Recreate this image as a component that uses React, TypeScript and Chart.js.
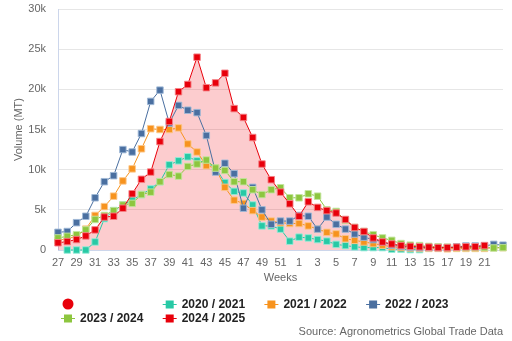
import React, { useEffect, useRef } from 'react';
import { Chart, registerables } from 'chart.js';

Chart.register(...registerables);

const weeks = [
  '27', '28', '29', '30', '31', '32', '33', '34', '35', '36', '37', '38', '39', '40',
  '41', '42', '43', '44', '45', '46', '47', '48', '49', '50', '51', '52',
  '1', '2', '3', '4', '5', '6', '7', '8', '9', '10', '11', '12', '13', '14', '15',
  '16', '17', '18', '19', '20', '21', '22', '23',
];

const yTicks = [0, 5000, 10000, 15000, 20000, 25000, 30000];

// values in thousands of MT
const s2020 = [
  null, 0, 0, 0, 1.0, 3.9, 4.9, 5.6, 6.2, 6.9, 7.6, 8.5, 10.6, 11.1,
  11.6, 11.1, 10.9, 10.2, 8.4, 7.3, 7.1, 5.6, 3.0, 3.0, 2.6, 1.1,
  1.6, 1.5, 1.3, 1.1, 0.7, 0.55, 0.4, 0.3, 0.3, 0.3, 0.1, 0.1, 0.05, 0.05, null,
  null, null, null, null, null, null, null, null,
];
const s2021 = [
  1.2, 1.4, 1.7, 2.6, 4.3, 5.4, 6.7, 8.6, 10.1, 12.6, 15.1, 15.0, 15.0, 15.2,
  13.2, 12.2, 10.5, 10.2, 7.8, 6.2, 5.8, 4.9, 4.1, 3.6, 3.4, 3.3,
  3.3, 3.0, 2.6, 2.2, 2.0, 1.4, 1.2, 1.0, 0.8, 0.6, 0.4, 0.3, 0.25, 0.2, 0.2,
  0.2, 0.15, 0.2, 0.2, 0.2, 0.2, 0.3, 0.3,
];
const s2022 = [
  2.2, 2.3, 3.4, 4.2, 6.5, 8.5, 9.25, 12.5, 12.2, 14.5, 18.5, 19.9, 15.8, 18.0,
  17.4, 17.1, 14.25, 9.7, 10.8, 9.5, 5.2, 7.8, 5.0, 3.2, 3.6, 3.6,
  4.3, 4.2, 2.6, 4.1, 3.2, 2.6, 2.0, 1.6, 1.3, 1.0, 0.6, 0.45, 0.35, 0.3, 0.3,
  0.3, 0.3, 0.4, 0.5, 0.5, 0.5, 0.7, 0.6,
];
const s2023 = [
  1.5, 1.7, 1.9, 2.5, 3.8, 4.3, 4.9, 5.6, 5.8, 6.9, 7.2, 8.5, 9.4, 9.2,
  10.4, 10.7, 11.2, 10.2, 9.9, 8.5, 8.5, 7.5, 6.9, 7.5, 7.75, 6.5,
  6.5, 7.0, 6.7, 5.0, 4.8, 3.7, 2.8, 2.3, 1.9, 1.5, 1.2, 0.8, 0.6, 0.55, 0.45,
  0.4, 0.35, 0.3, 0.3, 0.3, 0.3, 0.25, 0.3,
];
const s2024 = [
  0.9, 1.05, 1.3, 1.75, 2.5, 4.1, 4.2, 5.2, 7.0, 8.8, 9.7, 13.5, 16.0, 19.7,
  20.6, 24.0, 20.2, 20.8, 22.0, 17.6, 16.5, 14.0, 10.7, 8.75, 7.2, 5.75,
  4.2, 6.0, 5.3, 4.9, 4.6, 3.8, 2.8, 2.3, 1.5, 1.0, 0.75, 0.55, 0.45, 0.4, 0.35,
  0.3, 0.3, 0.35, 0.4, 0.4, 0.55, null, null,
];

const seriesNames = ['2020 / 2021', '2021 / 2022', '2022 / 2023', '2023 / 2024', '2024 / 2025'];
const seriesValues = [s2020, s2021, s2022, s2023, s2024];
const seriesColors = ['#27c9a5', '#f7931e', '#4a6fa0', '#8dc63f', '#e8000b'];
const seriesBorders = [
  'rgba(150,235,215,0.9)', 'rgba(252,200,140,0.9)', 'rgba(160,185,215,0.9)',
  'rgba(195,230,160,0.9)', 'rgba(245,130,135,0.9)',
];
const extraLegendLabel = '';
const sourceText = 'Source: Agronometrics Global Trade Data';

const FONT = '"Liberation Sans", Arial, sans-serif';

const legendPlugin = {
  id: 'customLegend',
  afterDraw(chart: any) {
    const ctx = chart.ctx as CanvasRenderingContext2D;
    ctx.save();
    const items: { label: string; color: string; circle: boolean }[] = [
      { label: extraLegendLabel, color: seriesColors[4], circle: true },
      ...seriesNames.map((n, i) => ({ label: n, color: seriesColors[i], circle: false })),
    ];
    const x0 = 61;
    const colW = 101.7;
    const y0 = 304;
    const rowH = 14;
    items.forEach((it, k) => {
      const col = k % 4;
      const row = Math.floor(k / 4);
      const x = x0 + col * colW;
      const y = y0 + row * rowH;
      if (it.circle) {
        ctx.beginPath();
        ctx.arc(x + 7, y, 5.5, 0, Math.PI * 2);
        ctx.fillStyle = it.color;
        ctx.fill();
      } else {
        ctx.strokeStyle = it.color;
        ctx.lineWidth = 1;
        ctx.beginPath();
        ctx.moveTo(x, y + 0.5);
        ctx.lineTo(x + 14, y + 0.5);
        ctx.stroke();
        ctx.fillStyle = it.color;
        ctx.fillRect(x + 3, y - 3.5, 8, 8);
      }
      if (it.label) {
        ctx.font = `bold 12px ${FONT}`;
        ctx.fillStyle = '#222222';
        ctx.textBaseline = 'middle';
        ctx.textAlign = 'left';
        ctx.fillText(it.label, x + 19, y + 1);
      }
    });
    ctx.font = `11px ${FONT}`;
    ctx.fillStyle = '#666666';
    ctx.textAlign = 'right';
    ctx.textBaseline = 'middle';
    ctx.fillText(sourceText, 503, 332);
    ctx.restore();
  },
};

export default function App() {
  const ref = useRef<HTMLCanvasElement>(null);
  useEffect(() => {
    document.body.style.margin = '0';
    const canvas = ref.current!;
    const order = [5, 4, 3, 2, 1];
    const chart = new Chart(canvas, {
      type: 'line',
      data: {
        labels: weeks,
        datasets: seriesValues.map((vals, i) => ({
          label: seriesNames[i],
          data: vals.map((v) => (v === null ? null : v * 1000)),
          borderColor: seriesColors[i],
          backgroundColor: i === 4 ? 'rgba(238,0,10,0.2)' : seriesColors[i],
          pointBackgroundColor: seriesColors[i],
          pointBorderColor: seriesBorders[i],
          pointBorderWidth: 1,
          pointStyle: 'rect',
          pointRadius: 4.6,
          borderWidth: 1,
          fill: i === 4 ? 'origin' : false,
          tension: 0,
          order: order[i],
          clip: false as any,
        })),
      },
      options: {
        animation: false,
        responsive: false,
        events: [],
        layout: { autoPadding: false, padding: { top: 9, right: 9, bottom: 51, left: 0 } },
        plugins: {
          legend: { display: false },
          tooltip: { enabled: false },
          filler: { drawTime: 'beforeDatasetsDraw' } as any,
        },
        scales: {
          x: {
            type: 'category',
            offset: false,
            afterFit: (s: any) => { s.height = 40; },
            grid: { display: false, drawTicks: false },
            border: { display: true, color: '#ccd6eb' },
            ticks: {
              autoSkip: false,
              maxRotation: 0,
              minRotation: 0,
              padding: 6,
              color: '#666666',
              font: { family: FONT, size: 11 },
              callback: (_v: any, idx: number) =>
                idx % 2 === 0 && idx !== weeks.length - 1 ? weeks[idx] : '',
            },
            title: {
              display: true,
              text: 'Weeks',
              color: '#666666',
              font: { family: FONT, size: 11 },
              padding: { top: 0, bottom: 5 },
            },
          },
          y: {
            min: 0,
            max: 30000,
            afterFit: (s: any) => {
              s.width = 58;
              s.paddingTop = 7;
              s.paddingBottom = 7;
            },
            afterBuildTicks: (s: any) => { s.ticks = yTicks.map((v) => ({ value: v })); },
            grid: { color: '#e6e6e6', drawTicks: false },
            border: { display: true, color: '#ccd6eb' },
            ticks: {
              padding: 12,
              color: '#666666',
              font: { family: FONT, size: 11 },
              callback: (v: any) => (v === 0 ? '0' : `${Number(v) / 1000}k`),
            },
            title: {
              display: true,
              text: 'Volume (MT)',
              color: '#666666',
              font: { family: FONT, size: 11 },
              padding: { top: 12, bottom: 0 },
            },
          },
        },
      },
      plugins: [legendPlugin],
    });
    return () => chart.destroy();
  }, []);
  return (
    <div style={{ width: 512, height: 341 }}>
      <canvas ref={ref} width={512} height={341} style={{ display: 'block' }} />
    </div>
  );
}
